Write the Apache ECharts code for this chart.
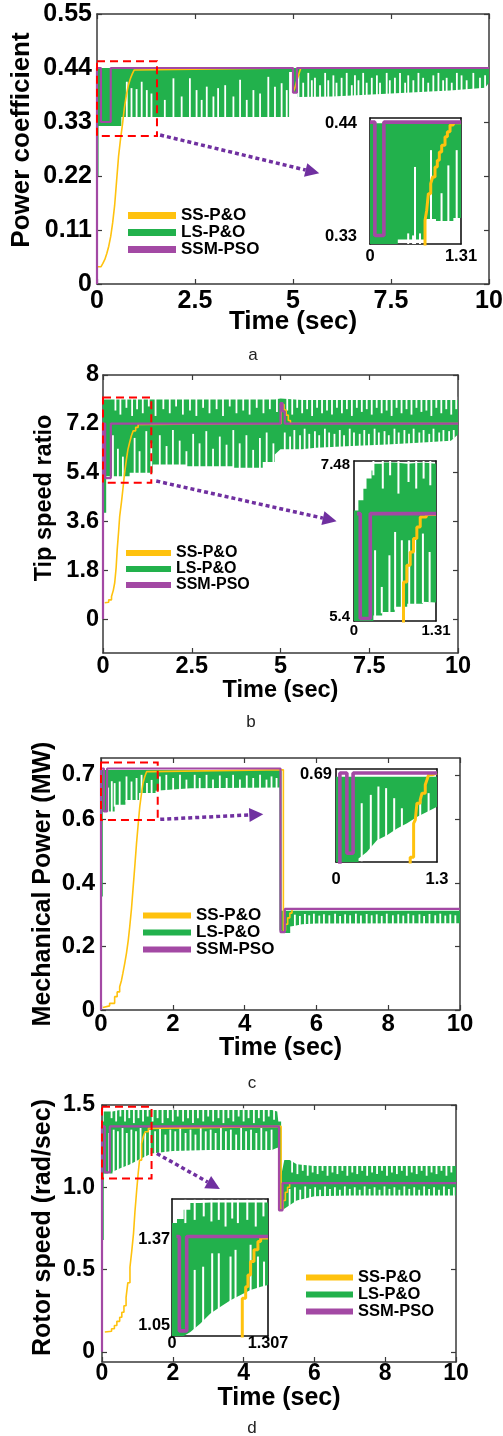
<!DOCTYPE html>
<html><head><meta charset="utf-8">
<script src="https://cdn.jsdelivr.net/npm/echarts@6/dist/echarts.min.js"></script>
<style>html,body{margin:0;padding:0;background:#fff}#c{width:503px;height:1436px}</style>
</head><body><div id="c"></div>
<script>
// ================= DATA =================
const legendNames = ['SS-P&O', 'LS-P&O', 'SSM-PSO'];
const xTitle = 'Time (sec)';

// ---- (a) Power coefficient ----
const aYTicks = [0, 0.11, 0.22, 0.33, 0.44, 0.55];
const aYTickText = ['0', '0.11', '0.22', '0.33', '0.44', '0.55'];
// LS-P&O band: [t, low, high]
const aLS = [[0,0.22,0.44],[0.04,0.22,0.44],[0.04,0.322,0.44],[0.62,0.322,0.44],[0.62,0.34,0.44],[4.90,0.34,0.44],[4.90,0.432,0.44],[4.99,0.432,0.44],[4.99,0.39,0.44],[5.12,0.39,0.44],[5.12,0.381,0.44],[6.0,0.382,0.44],[7.0,0.386,0.44],[8.0,0.39,0.44],[9.0,0.394,0.44],[9.9,0.40,0.44],[10,0.41,0.44]];
// LS-P&O oscillation gaps: [t, from, to]
const aLSGaps = [[0.76,0.335,0.412],[0.88,0.335,0.399],[1.01,0.335,0.397],[1.14,0.335,0.412],[1.27,0.335,0.395],[1.39,0.335,0.388],[1.73,0.335,0.375],[1.95,0.335,0.419],[2.16,0.335,0.382],[2.37,0.335,0.419],[2.54,0.335,0.395],[2.67,0.335,0.375],[2.80,0.335,0.402],[2.97,0.335,0.382],[3.09,0.335,0.399],[3.27,0.335,0.405],[3.48,0.335,0.382],[3.65,0.335,0.416],[3.82,0.335,0.375],[3.99,0.335,0.395],[4.16,0.335,0.388],[4.37,0.335,0.422],[4.54,0.335,0.402],[4.71,0.335,0.409],[4.84,0.335,0.395],
 [5.14,0.377,0.425],[5.26,0.377,0.41],[5.39,0.377,0.43],[5.48,0.377,0.415],[5.56,0.377,0.42],[5.69,0.377,0.405],[5.82,0.377,0.43],[5.90,0.377,0.415],[6.03,0.379,0.425],[6.11,0.379,0.41],[6.24,0.379,0.42],[6.37,0.379,0.43],[6.50,0.379,0.405],[6.58,0.379,0.425],[6.67,0.379,0.415],[6.79,0.379,0.43],[6.88,0.379,0.41],[7.01,0.383,0.42],[7.14,0.383,0.425],[7.22,0.383,0.41],[7.39,0.383,0.43],[7.47,0.383,0.415],[7.60,0.383,0.42],[7.73,0.383,0.43],[7.86,0.383,0.41],[7.94,0.383,0.425],[8.07,0.387,0.415],[8.20,0.387,0.43],[8.32,0.387,0.42],[8.45,0.387,0.41],[8.58,0.387,0.425],[8.71,0.387,0.43],[8.83,0.387,0.415],[8.92,0.387,0.42],[9.05,0.392,0.41],[9.18,0.392,0.43],[9.30,0.392,0.425],[9.43,0.392,0.415],[9.60,0.392,0.43],[9.77,0.392,0.42],[9.90,0.392,0.425]];
const aSS = [[0.02,0.035],[0.1,0.037],[0.15,0.042],[0.2,0.05],[0.25,0.062],[0.3,0.077],[0.35,0.097],[0.4,0.125],[0.45,0.16],[0.5,0.21],[0.55,0.26],[0.6,0.295],[0.65,0.325],[0.7,0.36],[0.75,0.385],[0.8,0.405],[0.85,0.418],[0.9,0.428],[0.95,0.436],[1.0,0.44],[5.0,0.39],[5.05,0.40],[5.1,0.415],[5.15,0.428],[5.2,0.44],[10,0.44]];
const aPSO = [[0,0],[0,0.44],[0.1,0.33],[0.35,0.44],[5.0,0.39],[5.1,0.44],[10,0.44]];
const aZoomBox = [0, 0.3015, 1.53, 0.454];
const aArrow = [1.61, 0.3035, 5.67, 0.2255];
const aInXTicks = [0, 1.31], aInXText = ['0', '1.31'];
const aInYTicks = [0.33, 0.44], aInYText = ['0.33', '0.44'];
const aInLS = [[0,0.3227,0.44],[0.40,0.3227,0.44],[0.40,0.327,0.44],[0.78,0.327,0.44],[0.80,0.347,0.44],[0.95,0.347,0.44],[0.95,0.345,0.44],[1.20,0.345,0.44],[1.20,0.348,0.44],[1.31,0.348,0.44]];
const aInLSGaps = [[0.55,0.32,0.333],[0.62,0.32,0.331],[0.648,0.32,0.3975],[0.72,0.32,0.333],[0.878,0.344,0.4138],[1.03,0.344,0.372],[1.128,0.344,0.399],[1.248,0.344,0.4138]];
const aInSS = [[0.792,0.31],[0.792,0.3454],[0.816,0.3552],[0.840,0.3715],[0.874,0.3813],[0.902,0.3877],[0.936,0.3975],[0.969,0.404],[0.998,0.4121],[1.032,0.4186],[1.08,0.4268],[1.114,0.4316],[1.152,0.4382],[1.20,0.4404],[1.31,0.4404]];
const aInPSO = [[0,0.441],[0.07,0.331],[0.2,0.441],[1.31,0.441]];

// ---- (b) Tip speed ratio ----
const bYTicks = [0, 1.8, 3.6, 5.4, 7.2, 9];
const bYTickText = ['0', '1.8', '3.6', '5.4', '7.2', '8'];
const bLS = [[0,3.92,8.1],[0.09,3.92,8.1],[0.09,5.27,8.1],[0.75,5.27,8.1],[0.75,5.40,8.1],[1.4,5.40,8.1],[1.4,5.70,8.1],[2.35,5.70,8.1],[2.35,5.64,8.1],[3.67,5.64,8.1],[3.67,5.58,8.1],[4.5,5.58,8.1],[4.5,5.79,8.1],[4.84,5.79,8.1],[4.84,6.07,8.1],[5.0,6.26,8.13],[5.6,6.26,8.08],[6.0,6.32,8.08],[7.0,6.38,8.08],[8.0,6.44,8.08],[9.0,6.51,8.08],[9.8,6.58,8.08],[10,6.81,8.08]];
const bLSGaps = [
 [0.28,5.2,6.78],[0.42,5.2,6.28],[0.56,5.2,5.99],[0.89,5.33,6.68],[1.03,5.33,6.19],[1.22,5.33,6.93],[1.36,5.33,6.48],[1.60,5.63,6.78],[1.79,5.63,6.38],[1.97,5.63,6.97],[2.16,5.63,6.58],[2.35,5.57,6.19],[2.54,5.57,6.83],[2.72,5.57,6.48],[2.91,5.57,6.93],[3.10,5.57,6.28],[3.29,5.57,6.73],[3.48,5.57,6.43],[3.67,5.51,6.97],[3.85,5.51,6.48],[4.04,5.51,6.78],[4.23,5.51,6.24],[4.42,5.51,6.68],[4.61,5.72,6.88],[4.80,5.72,6.48],
 [5.12,6.2,6.88],[5.27,6.2,6.73],[5.39,6.2,6.97],[5.55,6.2,6.78],[5.68,6.25,7.02],[5.81,6.25,6.83],[5.97,6.25,6.93],[6.09,6.28,6.78],[6.25,6.28,7.02],[6.37,6.28,6.88],[6.52,6.32,6.83],[6.67,6.32,6.97],[6.79,6.32,6.78],[6.95,6.32,7.02],[7.07,6.34,6.88],[7.23,6.34,6.83],[7.36,6.34,6.97],[7.49,6.38,6.83],[7.65,6.38,7.02],[7.77,6.38,6.88],[7.93,6.38,6.93],[8.05,6.4,6.78],[8.21,6.4,7.02],[8.33,6.4,6.88],[8.49,6.42,6.97],[8.62,6.44,6.83],[8.75,6.44,7.02],[8.91,6.45,6.88],[9.03,6.47,6.97],[9.19,6.48,6.83],[9.31,6.48,7.02],[9.47,6.5,6.88],[9.59,6.52,6.97],[9.75,6.55,6.93],[9.88,6.65,6.97],
 [0.35,8.2,7.69],[0.49,8.2,7.54],[0.66,8.2,7.79],[0.82,8.2,7.49],[0.96,8.2,7.74],[1.12,8.2,7.59],[1.29,8.2,7.84],[1.48,8.2,7.49],[1.70,8.2,7.74],[1.88,8.2,7.59],[2.06,8.2,7.84],[2.25,8.2,7.54],[2.45,8.2,7.69],[2.63,8.2,7.49],[2.82,8.2,7.79],[3.0,8.2,7.59],[3.2,8.2,7.74],[3.38,8.2,7.49],[3.57,8.2,7.84],[3.76,8.2,7.59],[3.95,8.2,7.69],[4.13,8.2,7.54],[4.33,8.2,7.79],[4.52,8.2,7.59],[4.70,8.2,7.74],[4.9,8.2,7.64],
 [5.19,8.2,7.69],[5.33,8.2,7.54],[5.47,8.2,7.79],[5.61,8.2,7.59],[5.75,8.2,7.74],[5.89,8.2,7.49],[6.03,8.2,7.79],[6.17,8.2,7.59],[6.31,8.2,7.69],[6.45,8.2,7.54],[6.59,8.2,7.79],[6.73,8.2,7.59],[6.87,8.2,7.74],[7.01,8.2,7.49],[7.15,8.2,7.79],[7.29,8.2,7.64],[7.43,8.2,7.74],[7.57,8.2,7.54],[7.71,8.2,7.79],[7.85,8.2,7.59],[7.99,8.2,7.69],[8.13,8.2,7.49],[8.27,8.2,7.79],[8.41,8.2,7.59],[8.55,8.2,7.74],[8.69,8.2,7.54],[8.83,8.2,7.79],[8.97,8.2,7.64],[9.11,8.2,7.69],[9.25,8.2,7.49],[9.39,8.2,7.79],[9.53,8.2,7.59],[9.67,8.2,7.74],[9.81,8.2,7.54],[9.95,8.2,7.74]];
const bSS = [[0.05,0.6],[0.09,0.62],[0.16,0.71],[0.24,0.83],[0.29,1.06],[0.33,1.34],[0.37,1.9],[0.40,2.56],[0.44,3.23],[0.47,3.79],[0.52,4.31],[0.56,4.78],[0.61,5.40],[0.66,5.89],[0.70,6.24],[0.75,6.51],[0.80,6.76],[0.85,6.94],[0.92,7.07],[0.99,7.18],[1.05,7.21],[5.02,7.91],[5.1,7.71],[5.16,7.52],[5.22,7.32],[5.28,7.21],[10,7.21]];
const bPSO = [[0,0],[0,7.21],[0.06,5.2],[0.22,7.21],[5.0,7.96],[5.06,7.66],[5.12,7.21],[10,7.21]];
const bZoomBox = [0, 5.03, 1.36, 8.17];
const bArrow = [1.5, 5.09, 6.58, 3.61];
const bInXTicks = [0, 1.31], bInXText = ['0', '1.31'];
const bInYTicks = [5.4, 7.48], bInYText = ['5.4', '7.48'];
const bInLS = [[0,5.345,6.86],[0.07,5.345,6.86],[0.07,5.345,7.0],[0.15,5.345,7.0],[0.15,5.345,7.16],[0.20,5.345,7.16],[0.20,5.345,7.30],[0.28,5.345,7.30],[0.28,5.345,7.41],[0.31,5.345,7.41],[0.31,5.42,7.50],[0.45,5.42,7.50],[0.45,5.47,7.52],[0.65,5.47,7.52],[0.65,5.54,7.52],[0.85,5.54,7.50],[0.85,5.58,7.50],[1.1,5.58,7.52],[1.1,5.61,7.52],[1.31,5.60,7.50]];
const bInLSGaps = [[0.337,5.40,6.315],[0.444,5.45,5.812],[0.566,5.46,6.246],[0.657,5.5,6.566],[0.764,5.53,6.452],[0.882,5.56,6.452],[0.978,5.57,6.497],[1.101,5.59,6.544],[1.208,5.6,6.291],
 [0.31,7.55,7.343],[0.46,7.55,7.161],[0.577,7.55,7.343],[0.71,7.55,7.092],[0.871,7.55,7.251],[0.994,7.55,7.161],[1.112,7.55,7.298],[1.219,7.55,7.206]];
const bInSS = [[0.791,5.2],[0.791,5.88],[0.844,6.109],[0.898,6.291],[0.951,6.475],[1.004,6.634],[1.058,6.771],[1.155,6.804],[1.31,6.804]];
const bInPSO = [[0.05,6.818],[0.10,5.38],[0.26,6.818],[1.31,6.818]];

// ---- (c) Mechanical Power (MW) ----
const cYTicks = [0, 0.2, 0.4, 0.6, 0.74];
const cYTickText = ['0', '0.2', '0.4', '0.6', '0.7'];
const cLS = [[0,0.357,0.755],[0.05,0.357,0.755],[0.05,0.625,0.755],[0.38,0.625,0.755],[0.38,0.646,0.755],[0.68,0.646,0.755],[0.68,0.661,0.755],[1.06,0.661,0.755],[1.06,0.683,0.755],[1.52,0.683,0.755],[1.52,0.69,0.755],[2.0,0.694,0.755],[2.5,0.698,0.755],[4.97,0.70,0.755],[4.97,0.25,0.755],[5.03,0.25,0.755],[5.03,0.242,0.312],[5.27,0.242,0.312],[5.27,0.263,0.312],[5.4,0.265,0.312],[5.6,0.27,0.312],[6.0,0.272,0.312],[10,0.273,0.312]];
const cLSGaps = [[0.2,0.62,0.70],[0.3,0.62,0.72],[0.38,0.64,0.714],[0.52,0.64,0.719],[0.71,0.655,0.735],[0.85,0.655,0.719],[0.99,0.655,0.730],[1.13,0.678,0.740],[1.28,0.678,0.714],[1.41,0.678,0.724],[1.64,0.685,0.735],[1.82,0.688,0.740],[2.01,0.69,0.730],[2.20,0.692,0.740],[2.38,0.693,0.725],[2.61,0.694,0.740],[2.75,0.694,0.730],[2.94,0.694,0.740],[3.12,0.694,0.725],[3.31,0.694,0.738],[3.50,0.694,0.730],[3.68,0.694,0.740],[3.87,0.694,0.725],[4.06,0.694,0.738],[4.24,0.694,0.730],[4.43,0.694,0.740],[4.61,0.694,0.725],[4.75,0.694,0.735],[4.89,0.694,0.730],
 [5.40,0.26,0.300],[5.54,0.265,0.296],[5.68,0.265,0.302],[5.80,0.268,0.298],[5.93,0.268,0.303],[6.08,0.268,0.297],[6.21,0.268,0.301],[6.36,0.268,0.298],[6.52,0.268,0.303],[6.66,0.268,0.296],[6.80,0.268,0.301],[6.94,0.268,0.298],[7.10,0.268,0.303],[7.24,0.268,0.297],[7.40,0.268,0.302],[7.54,0.268,0.298],[7.68,0.268,0.301],[7.82,0.268,0.296],[7.96,0.268,0.303],[8.13,0.268,0.298],[8.28,0.268,0.301],[8.42,0.268,0.297],[8.56,0.268,0.303],[8.70,0.268,0.298],[8.87,0.268,0.301],[9.00,0.268,0.296],[9.15,0.268,0.302],[9.31,0.268,0.298],[9.45,0.268,0.303],[9.59,0.268,0.297],[9.73,0.268,0.301],[9.87,0.268,0.298]];
const cSS = [[0.05,0.008],[0.10,0.013],[0.24,0.021],[0.38,0.042],[0.45,0.057],[0.52,0.073],[0.57,0.093],[0.61,0.116],[0.66,0.146],[0.71,0.179],[0.76,0.22],[0.80,0.262],[0.85,0.32],[0.89,0.378],[0.94,0.45],[0.99,0.525],[1.04,0.59],[1.08,0.64],[1.13,0.683],[1.17,0.714],[1.22,0.735],[1.27,0.75],[1.36,0.756],[5.08,0.25],[5.14,0.27],[5.2,0.29],[5.26,0.305],[5.32,0.318],[10,0.318]];
const cPSO = [[0,0],[0,0.76],[0.08,0.625],[0.17,0.76],[5.0,0.245],[5.12,0.318],[10,0.318]];
const cZoomBox = [0, 0.598, 1.58, 0.779];
const cArrow = [1.65, 0.60, 4.52, 0.616];
const cInXTicks = [0, 1.3], cInXText = ['0', '1.3'];
const cInYTicks = [0.6, 0.69], cInYText = ['0.6', '0.69'];
const cInLS = [[0,0.6033,0.688],[0.29,0.6033,0.688],[0.29,0.6067,0.688],[0.397,0.6133,0.688],[0.527,0.625,0.688],[0.656,0.630,0.688],[0.786,0.6367,0.688],[0.915,0.6417,0.688],[1.045,0.6483,0.688],[1.175,0.6533,0.688],[1.30,0.6583,0.688]];
const cInLSGaps = [[0.331,0.604,0.6617],[0.448,0.61,0.670],[0.546,0.62,0.6783],[0.645,0.626,0.6767],[0.749,0.63,0.6667],[0.848,0.634,0.6567],[1.084,0.645,0.665],[1.192,0.649,0.6717]];
const cInSS = [[0.955,0.59],[0.955,0.608],[0.999,0.6417],[1.02,0.645],[1.042,0.6617],[1.084,0.665],[1.107,0.6717],[1.149,0.680],[1.171,0.685],[1.192,0.690],[1.235,0.6917],[1.3,0.6917]];
const cInPSO = [[0.05,0.60],[0.05,0.6917],[0.14,0.612],[0.22,0.6917],[1.3,0.6917]];

// ---- (d) Rotor speed (rad/sec) ----
const dYTicks = [0, 0.5, 1, 1.5];
const dYTickText = ['0', '0.5', '1.0', '1.5'];
const dLS = [[0,0.68,1.40],[0.05,0.68,1.40],[0.05,1.083,1.46],[0.3,1.083,1.46],[0.3,1.095,1.46],[0.5,1.114,1.47],[0.8,1.14,1.47],[1.1,1.175,1.47],[1.4,1.205,1.47],[2.0,1.22,1.47],[3.0,1.226,1.47],[4.8,1.226,1.47],[4.95,1.24,1.46],[4.98,1.24,1.40],[4.98,0.86,1.40],[5.06,0.86,1.40],[5.06,0.86,1.07],[5.15,0.87,1.165],[5.3,0.89,1.165],[5.5,0.92,1.14],[6.0,0.945,1.13],[7.0,0.95,1.13],[10,0.95,1.13]];
const dLSGaps = [
 [0.2,1.07,1.33],[0.33,1.08,1.35],[0.45,1.095,1.34],[0.58,1.11,1.36],[0.70,1.12,1.33],[0.83,1.13,1.35],[0.96,1.15,1.34],[1.09,1.165,1.36],[1.22,1.18,1.33],[1.35,1.19,1.35],[1.5,1.2,1.34],[1.64,1.205,1.36],[1.79,1.21,1.32],[1.93,1.21,1.35],[2.07,1.212,1.34],[2.21,1.214,1.36],[2.36,1.215,1.33],[2.5,1.215,1.35],[2.64,1.216,1.32],[2.79,1.216,1.36],[2.93,1.216,1.34],[3.07,1.216,1.35],[3.21,1.216,1.33],[3.36,1.216,1.36],[3.5,1.216,1.34],[3.64,1.216,1.35],[3.79,1.216,1.32],[3.93,1.216,1.36],[4.07,1.216,1.34],[4.21,1.216,1.35],[4.36,1.216,1.33],[4.5,1.216,1.36],[4.64,1.216,1.34],[4.79,1.216,1.35],
 [0.27,1.48,1.42],[0.4,1.48,1.40],[0.52,1.48,1.43],[0.65,1.48,1.40],[0.77,1.48,1.42],[0.9,1.48,1.39],[1.03,1.48,1.42],[1.16,1.48,1.40],[1.29,1.48,1.43],[1.43,1.48,1.40],[1.57,1.48,1.42],[1.71,1.48,1.39],[1.86,1.48,1.42],[2.0,1.48,1.40],[2.14,1.48,1.43],[2.29,1.48,1.40],[2.43,1.48,1.42],[2.57,1.48,1.39],[2.71,1.48,1.42],[2.86,1.48,1.40],[3.0,1.48,1.43],[3.14,1.48,1.40],[3.29,1.48,1.42],[3.43,1.48,1.39],[3.57,1.48,1.42],[3.71,1.48,1.40],[3.86,1.48,1.43],[4.0,1.48,1.40],[4.14,1.48,1.42],[4.29,1.48,1.39],[4.43,1.48,1.42],[4.57,1.48,1.40],[4.71,1.48,1.43],[4.86,1.48,1.41],
 [5.3,0.87,0.99],[5.45,0.89,1.0],[5.6,0.91,0.985],[5.74,0.925,1.005],[5.88,0.93,0.99],[6.02,0.935,1.0],[6.16,0.935,0.985],[6.3,0.935,1.005],[6.44,0.935,0.99],[6.58,0.935,1.0],[6.72,0.935,0.985],[6.86,0.935,1.005],[7.0,0.935,0.99],[7.14,0.935,1.0],[7.28,0.935,0.985],[7.42,0.935,1.005],[7.56,0.935,0.99],[7.7,0.935,1.0],[7.84,0.935,0.985],[7.98,0.935,1.005],[8.12,0.935,0.99],[8.26,0.935,1.0],[8.4,0.935,0.985],[8.54,0.935,1.005],[8.68,0.935,0.99],[8.82,0.935,1.0],[8.96,0.935,0.985],[9.1,0.935,1.005],[9.24,0.935,0.99],[9.38,0.935,1.0],[9.52,0.935,0.985],[9.66,0.935,1.005],[9.8,0.935,0.99],[9.94,0.935,1.0],
 [5.37,1.18,1.09],[5.52,1.16,1.08],[5.67,1.15,1.1],[5.81,1.15,1.07],[5.95,1.15,1.09],[6.09,1.15,1.08],[6.23,1.15,1.1],[6.37,1.15,1.07],[6.51,1.15,1.09],[6.65,1.15,1.08],[6.79,1.15,1.1],[6.93,1.15,1.07],[7.07,1.15,1.09],[7.21,1.15,1.08],[7.35,1.15,1.1],[7.49,1.15,1.07],[7.63,1.15,1.09],[7.77,1.15,1.08],[7.91,1.15,1.1],[8.05,1.15,1.07],[8.19,1.15,1.09],[8.33,1.15,1.08],[8.47,1.15,1.1],[8.61,1.15,1.07],[8.75,1.15,1.09],[8.89,1.15,1.08],[9.03,1.15,1.1],[9.17,1.15,1.07],[9.31,1.15,1.09],[9.45,1.15,1.08],[9.59,1.15,1.1],[9.73,1.15,1.07],[9.87,1.15,1.09]];
const dSS = [[0.08,0.12],[0.12,0.125],[0.27,0.14],[0.35,0.16],[0.42,0.185],[0.5,0.21],[0.56,0.24],[0.62,0.28],[0.68,0.331],[0.73,0.42],[0.79,0.514],[0.84,0.61],[0.89,0.718],[0.93,0.85],[0.98,0.982],[1.02,1.08],[1.06,1.165],[1.12,1.266],[1.17,1.31],[1.22,1.337],[1.31,1.358],[1.36,1.37],[5.06,0.87],[5.12,0.92],[5.18,0.97],[5.24,1.0],[5.3,1.025],[10,1.025]];
const dPSO = [[0,0],[0,1.37],[0.08,1.09],[0.22,1.37],[5.0,0.86],[5.1,1.025],[10,1.025]];
const dZoomBox = [0, 1.053, 1.4, 1.49];
const dArrow = [1.55, 1.205, 3.33, 0.99];
const dInXTicks = [0, 1.307], dInXText = ['0', '1.307'];
const dInYTicks = [1.05, 1.37], dInYText = ['1.05', '1.37'];
const dInLS = [[0,1.011,1.433],[0.068,1.011,1.433],[0.068,1.011,1.448],[0.159,1.011,1.448],[0.159,1.011,1.483],[0.25,1.026,1.483],[0.25,1.026,1.508],[0.387,1.058,1.508],[0.523,1.095,1.51],[0.66,1.12,1.51],[0.797,1.145,1.51],[0.934,1.164,1.51],[1.07,1.183,1.51],[1.21,1.195,1.51],[1.307,1.202,1.51]];
const dInLSGaps = [[0.309,1.03,1.258],[0.424,1.05,1.27],[0.547,1.08,1.32],[0.637,1.10,1.32],[0.797,1.13,1.308],[0.865,1.14,1.333],[1.07,1.17,1.352],[1.17,1.18,1.308],[1.253,1.19,1.289],
 [0.182,1.52,1.433],[0.309,1.52,1.445],[0.432,1.52,1.458],[0.537,1.52,1.439],[0.637,1.52,1.445],[0.729,1.52,1.42],[0.82,1.52,1.45],[0.897,1.52,1.433],[1.025,1.52,1.445],[1.14,1.52,1.42],[1.245,1.52,1.458]];
const dInSS = [[0.957,1.0],[0.957,1.152],[1.003,1.195],[1.034,1.239],[1.07,1.289],[1.116,1.333],[1.17,1.364],[1.207,1.377],[1.307,1.377]];
const dInPSO = [[0.06,1.383],[0.1,1.03],[0.2,1.383],[1.307,1.383]];

// ================= STYLE / LAYOUT =================
const FONT = '"Liberation Sans", Arial, Helvetica, sans-serif';
const YELLOW = '#FFC20E', GREEN = '#22B14C', PURPLE = '#A349A4', RED = '#FF0000', ARROWC = '#7030A0', AXIS = '#3a3a3a';

const panels = [
 { key:'a', main:{left:97, top:14, width:392, height:270}, xMax:10, xInt:2.5, yMin:0, yMax:0.55,
   yTicks:aYTicks, yText:aYTickText, yName:'Power coefficient', fs:25, nameFs:26, xLabMargin:5, yLabMargin:5, xNameGap:25, yNameGap:62, yNamePad:[0,0,0,18],
   ls:aLS, gaps:aLSGaps, ss:aSS, pso:aPSO, box:aZoomBox, arrow:aArrow,
   inset:{box:{left:370, top:118, width:91, height:126}, xMax:1.31, yMin:0.3227, yMax:0.445, xTicks:aInXTicks, xText:aInXText, yTicks:aInYTicks, yText:aInYText, fs:16.5, xLabMargin:4, yLabMargin:13, ls:aInLS, gaps:aInLSGaps, ss:aInSS, pso:aInPSO},
   legend:{left:128, top:207, itemWidth:48, itemHeight:7, fs:17, lh:16.5}, caption:{x:253, y:355} },
 { key:'b', main:{left:103, top:375, width:355, height:278}, xMax:10, xInt:2.5, yMin:-1.25, yMax:9,
   yTicks:bYTicks, yText:bYTickText, yName:'Tip speed ratio', fs:23.5, nameFs:23.5, xLabMargin:2, yLabMargin:4, xNameGap:26, yNameGap:46, yNamePad:[0,0,0,32],
   ls:bLS, gaps:bLSGaps, ss:bSS, pso:bPSO, box:bZoomBox, arrow:bArrow,
   inset:{box:{left:354, top:461, width:82, height:160}, xMax:1.31, yMin:5.345, yMax:7.539, xTicks:bInXTicks, xText:bInXText, yTicks:bInYTicks, yText:bInYText, fs:15, xLabMargin:2, yLabMargin:4, ls:bInLS, gaps:bInLSGaps, ss:bInSS, pso:bInPSO},
   legend:{left:126, top:545, itemWidth:45, itemHeight:6, fs:16, lh:15.3}, caption:{x:251, y:722} },
 { key:'c', main:{left:101, top:758, width:359, height:252}, xMax:10, xInt:2, yMin:0, yMax:0.793,
   yTicks:cYTicks, yText:cYTickText, yName:'Mechanical Power (MW)', fs:24, nameFs:25, xLabMargin:2, yLabMargin:6, xNameGap:26, yNameGap:45, yNamePad:[0,0,0,0],
   ls:cLS, gaps:cLSGaps, ss:cSS, pso:cPSO, box:cZoomBox, arrow:cArrow,
   inset:{box:{left:336, top:769, width:101, height:93}, xMax:1.3, yMin:0.6033, yMax:0.6957, xTicks:cInXTicks, xText:cInXText, yTicks:cInYTicks, yText:cInYText, fs:16.5, xLabMargin:9, yLabMargin:4, ls:cInLS, gaps:cInLSGaps, ss:cInSS, pso:cInPSO},
   legend:{left:143, top:907, itemWidth:48, itemHeight:6, fs:17, lh:16.2}, caption:{x:252, y:1083} },
 { key:'d', main:{left:102, top:1105, width:354, height:257}, xMax:10, xInt:2, yMin:-0.062, yMax:1.5,
   yTicks:dYTicks, yText:dYTickText, yName:'Rotor speed (rad/sec)', fs:23, nameFs:25, xLabMargin:0, yLabMargin:7, xNameGap:23.5, yNameGap:46, yNamePad:[0,0,0,12],
   ls:dLS, gaps:dLSGaps, ss:dSS, pso:dPSO, box:dZoomBox, arrow:dArrow,
   inset:{box:{left:172, top:1199, width:96, height:137}, xMax:1.307, yMin:1.011, yMax:1.523, xTicks:dInXTicks, xText:dInXText, yTicks:dInYTicks, yText:dInYText, fs:16.3, xLabMargin:0, yLabMargin:2, ls:dInLS, gaps:dInLSGaps, ss:dInSS, pso:dInPSO},
   legend:{left:306, top:1269, itemWidth:47, itemHeight:6, fs:16.5, lh:16}, caption:{x:252, y:1428} }
];

// ================= BUILD OPTION =================
const option = { animation:false, backgroundColor:'#fff', textStyle:{fontFamily:FONT},
  grid:[], xAxis:[], yAxis:[], series:[], legend:[], graphic:[] };

function fmt(vals, texts) {
  return function (v) { for (let i = 0; i < vals.length; i++) { if (Math.abs(vals[i] - v) < 1e-7) return texts[i]; } return ''; };
}
function lbl(size, margin, extra) {
  return Object.assign({show:true, color:'#000', fontSize:size, fontWeight:'bold', fontFamily:FONT, margin:margin}, extra || {});
}
function bandSeries(xi, yi, data, z) {
  return { type:'custom', name:'LS-P&O', xAxisIndex:xi, yAxisIndex:yi, data:data, z:z, silent:true, clip:true,
    itemStyle:{color:GREEN}, encode:{x:0, y:[1,2]},
    renderItem:function (params, api) {
      if (params.dataIndex !== 0) return null;
      const up = data.map(function (d) { return api.coord([d[0], d[2]]); });
      const lo = data.map(function (d) { return api.coord([d[0], d[1]]); }).reverse();
      return {type:'polygon', shape:{points:up.concat(lo)}, style:{fill:GREEN}};
    } };
}
function gapSeries(xi, yi, data, w, z) {
  return { type:'custom', xAxisIndex:xi, yAxisIndex:yi, data:data, z:z, silent:true, clip:true,
    encode:{x:0, y:[1,2]},
    renderItem:function (params, api) {
      const p1 = api.coord([api.value(0), api.value(1)]);
      const p2 = api.coord([api.value(0), api.value(2)]);
      return {type:'rect', shape:{x:p1[0]-w/2, y:Math.min(p1[1],p2[1]), width:w, height:Math.abs(p2[1]-p1[1])}, style:{fill:'#ffffff'}};
    } };
}
function lineSeries(name, xi, yi, data, color, width, z) {
  return { type:'line', name:name, xAxisIndex:xi, yAxisIndex:yi, data:data, step:'end', showSymbol:false, symbol:'none',
    lineStyle:{color:color, width:width}, itemStyle:{color:color}, z:z, silent:true, clip:true };
}

panels.forEach(function (p) {
  // ---- main grid ----
  const gi = option.grid.length;
  option.grid.push(Object.assign({show:false, containLabel:false, outerBoundsMode:'none'}, p.main));
  const xi = option.xAxis.length;
  const axLine = {show:true, onZero:false, lineStyle:{color:AXIS, width:1.5}};
  const tick = {show:true, inside:true, length:5, lineStyle:{color:AXIS, width:1.2}};
  option.xAxis.push({type:'value', gridIndex:gi, position:'bottom', min:0, max:p.xMax, interval:p.xInt,
    axisLine:axLine, axisTick:tick, axisLabel:lbl(p.fs, p.xLabMargin), splitLine:{show:false},
    name:xTitle, nameLocation:'middle', nameGap:p.xNameGap, nameMoveOverlap:false,
    nameTextStyle:{color:'#000', fontSize:p.nameFs, fontWeight:'bold', fontFamily:FONT}});
  option.xAxis.push({type:'value', gridIndex:gi, position:'top', min:0, max:p.xMax, interval:p.xInt,
    axisLine:axLine, axisTick:tick, axisLabel:{show:false}, splitLine:{show:false}});
  const yi = option.yAxis.length;
  option.yAxis.push({type:'value', gridIndex:gi, position:'left', min:p.yMin, max:p.yMax,
    axisLine:axLine, axisTick:Object.assign({customValues:p.yTicks}, tick),
    axisLabel:lbl(p.fs, p.yLabMargin, {customValues:p.yTicks, formatter:fmt(p.yTicks, p.yText)}),
    splitLine:{show:false},
    name:p.yName, nameLocation:'middle', nameGap:p.yNameGap, nameMoveOverlap:false,
    nameTextStyle:{color:'#000', fontSize:p.nameFs, fontWeight:'bold', fontFamily:FONT, padding:p.yNamePad}});
  option.yAxis.push({type:'value', gridIndex:gi, position:'right', min:p.yMin, max:p.yMax,
    axisLine:axLine, axisTick:Object.assign({customValues:p.yTicks}, tick), axisLabel:{show:false}, splitLine:{show:false}});

  option.series.push(bandSeries(xi, yi, p.ls, 2));
  option.series.push(gapSeries(xi, yi, p.gaps, 1.8, 3));
  option.series.push(lineSeries('SS-P&O', xi, yi, p.ss, YELLOW, 1.6, 4));
  option.series.push(lineSeries('SSM-PSO', xi, yi, p.pso, PURPLE, 2.2, 5));
  // zoom box
  option.series.push({type:'custom', xAxisIndex:xi, yAxisIndex:yi, data:[p.box], z:6, silent:true, clip:false,
    encode:{x:[0,2], y:[1,3]},
    renderItem:function (params, api) {
      const a = api.coord([api.value(0), api.value(1)]), b = api.coord([api.value(2), api.value(3)]);
      return {type:'rect', shape:{x:Math.min(a[0],b[0]), y:Math.min(a[1],b[1]), width:Math.abs(b[0]-a[0]), height:Math.abs(b[1]-a[1])},
        style:{fill:'rgba(0,0,0,0)', stroke:RED, lineWidth:2, lineDash:[8,5]}};
    }});
  // dotted arrow
  option.series.push({type:'custom', xAxisIndex:xi, yAxisIndex:yi, data:[p.arrow], z:6, silent:true, clip:false,
    encode:{x:[0,2], y:[1,3]},
    renderItem:function (params, api) {
      const s = api.coord([api.value(0), api.value(1)]), e = api.coord([api.value(2), api.value(3)]);
      const dx = e[0]-s[0], dy = e[1]-s[1], len = Math.sqrt(dx*dx+dy*dy), ux = dx/len, uy = dy/len;
      const L = 14, W = 7, bx = e[0]-ux*L, by = e[1]-uy*L;
      return {type:'group', children:[
        {type:'line', shape:{x1:s[0], y1:s[1], x2:bx, y2:by}, style:{stroke:ARROWC, lineWidth:3.5, lineDash:[4,3], fill:null}},
        {type:'polygon', shape:{points:[[e[0],e[1]],[bx-uy*W, by+ux*W],[bx+uy*W, by-ux*W]]}, style:{fill:ARROWC}}
      ]};
    }});

  // ---- inset ----
  const q = p.inset;
  const gj = option.grid.length;
  option.grid.push(Object.assign({show:true, backgroundColor:'#fff', borderWidth:0, containLabel:false, outerBoundsMode:'none'}, q.box));
  const inLine = {show:true, onZero:false, lineStyle:{color:'#111', width:1.6}};
  const xj = option.xAxis.length;
  option.xAxis.push({type:'value', gridIndex:gj, position:'bottom', min:0, max:q.xMax,
    axisLine:inLine, axisTick:{show:false}, axisLabel:lbl(q.fs, q.xLabMargin, {customValues:q.xTicks, formatter:fmt(q.xTicks, q.xText)}), splitLine:{show:false}});
  option.xAxis.push({type:'value', gridIndex:gj, position:'top', min:0, max:q.xMax,
    axisLine:inLine, axisTick:{show:false}, axisLabel:{show:false}, splitLine:{show:false}});
  const yj = option.yAxis.length;
  option.yAxis.push({type:'value', gridIndex:gj, position:'left', min:q.yMin, max:q.yMax,
    axisLine:inLine, axisTick:{show:false}, axisLabel:lbl(q.fs, q.yLabMargin, {customValues:q.yTicks, formatter:fmt(q.yTicks, q.yText)}), splitLine:{show:false}});
  option.yAxis.push({type:'value', gridIndex:gj, position:'right', min:q.yMin, max:q.yMax,
    axisLine:inLine, axisTick:{show:false}, axisLabel:{show:false}, splitLine:{show:false}});
  option.series.push(bandSeries(xj, yj, q.ls, 2));
  option.series.push(gapSeries(xj, yj, q.gaps, 2, 3));
  option.series.push(lineSeries('SS-P&O', xj, yj, q.ss, YELLOW, 3, 4));
  option.series.push(lineSeries('SSM-PSO', xj, yj, q.pso, PURPLE, 3.6, 5));

  // ---- legend ----
  const L = p.legend;
  option.legend.push({orient:'vertical', left:L.left, top:L.top, padding:0, itemGap:0, itemWidth:L.itemWidth, itemHeight:L.itemHeight,
    icon:'rect', selectedMode:false,
    textStyle:{color:'#000', fontSize:L.fs, fontWeight:'bold', fontFamily:FONT, lineHeight:L.lh},
    data:[{name:legendNames[0], itemStyle:{color:YELLOW}}, {name:legendNames[1], itemStyle:{color:GREEN}}, {name:legendNames[2], itemStyle:{color:PURPLE}}]});

  // ---- caption ----
  option.graphic.push({type:'text', x:p.caption.x, y:p.caption.y, silent:true,
    style:{text:p.key, font:'17px ' + FONT, fill:'#222', align:'center', verticalAlign:'middle', textAlign:'center', textVerticalAlign:'middle'}});
});

const chart = echarts.init(document.getElementById('c'), null, {renderer:'canvas', width:503, height:1436});
chart.setOption(option);
</script></body></html>
